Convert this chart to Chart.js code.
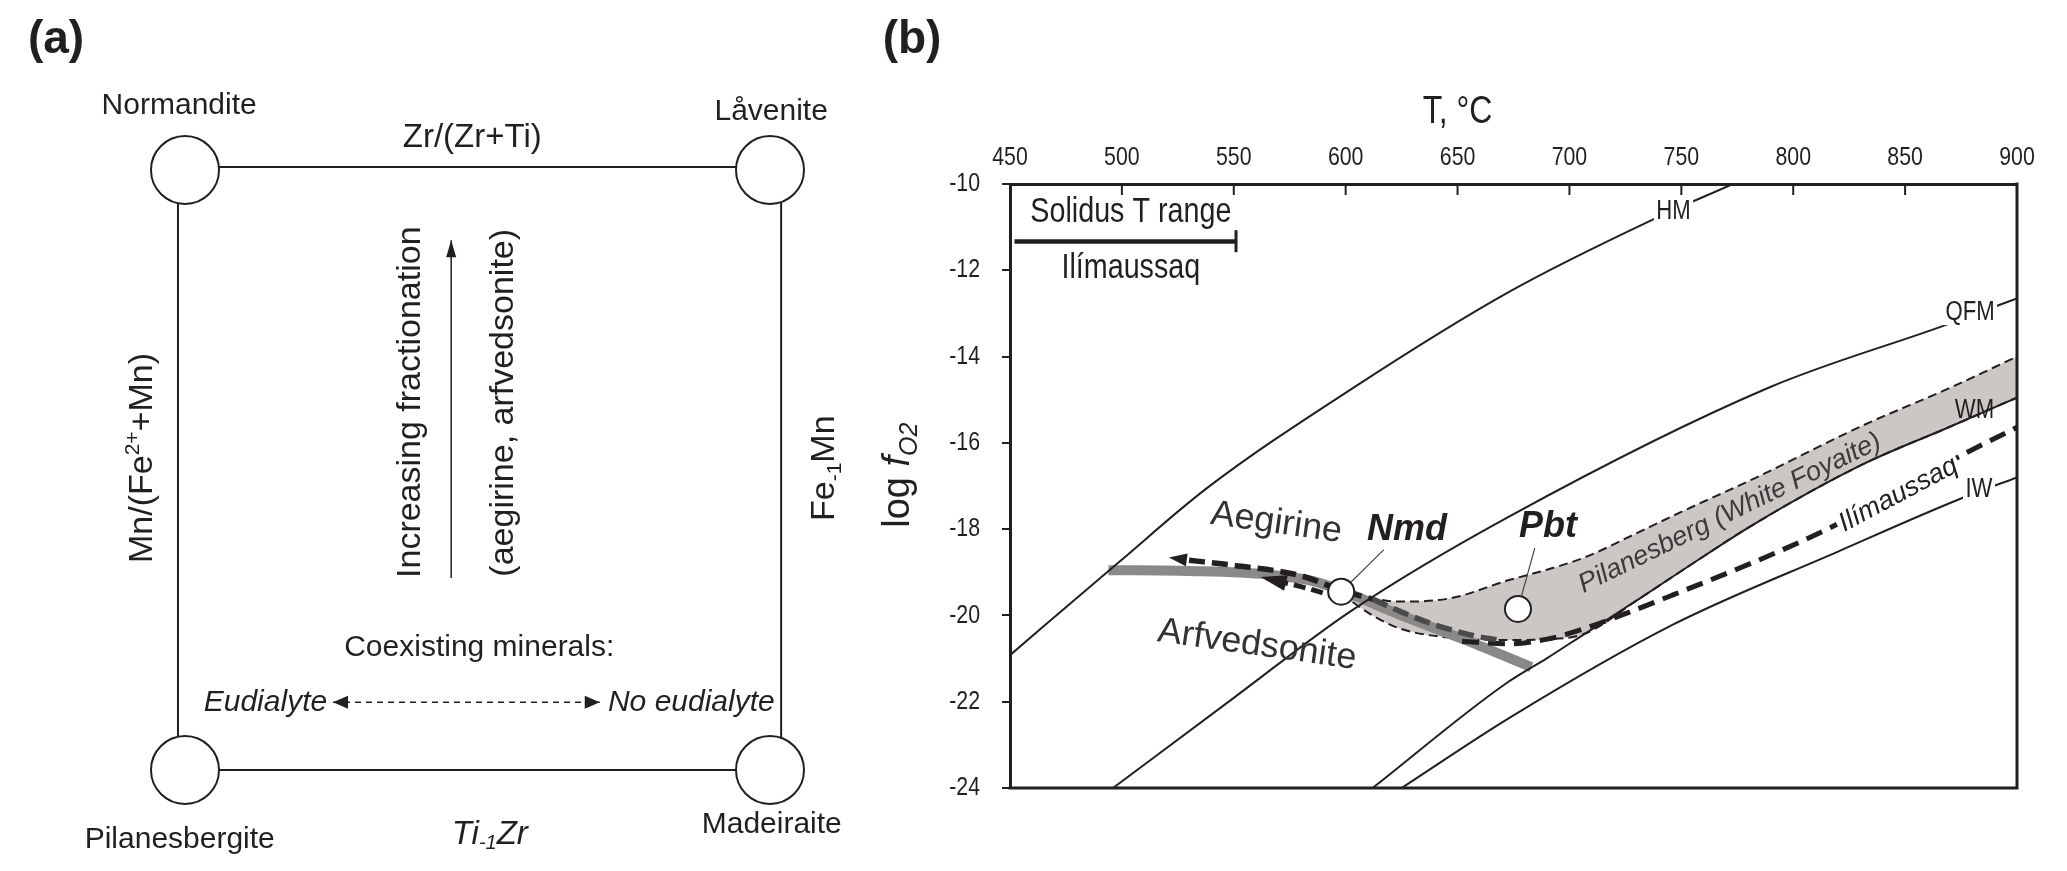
<!DOCTYPE html>
<html>
<head>
<meta charset="utf-8">
<title>Eudialyte end-members and redox conditions</title>
<script src="https://cdn.jsdelivr.net/npm/chart.js@4/dist/chart.umd.min.js"></script>
<style>
  html, body { margin: 0; padding: 0; background: #fff; }
  #page { position: relative; width: 2067px; height: 871px; overflow: hidden; }
  #page canvas { position: absolute; top: 0; }
</style>
</head>
<body>
<div id="page">
  <canvas id="panelA" width="870" height="871" style="left:0"></canvas>
  <canvas id="panelB" width="1197" height="871" style="left:870px"></canvas>
</div>
<script>
const INK = '#231f20';
const SANS = '"Liberation Sans", Arial, Helvetica, sans-serif';
const NARROW_X = 0.82; // no narrow face installed: squeeze Liberation Sans instead

// ---------- (a) compositional square ----------
const cornerNames = ['Normandite', 'Låvenite', 'Pilanesbergite', 'Madeiraite'];
const cornerX = [0, 1, 0, 1];
const cornerY = [1, 1, 0, 0];
// sides of the square (the vertical sides sit a little off the circle centres)
const topEdge = [[0, 1.005], [1, 1.005]];
const bottomEdge = [[0, 0], [1, 0]];
const leftEdge = [[-0.012, 0], [-0.012, 1]];
const rightEdge = [[1.019, 0], [1.019, 1]];
const fractionationArrow = [[0.455, 0.32], [0.455, 0.883]];
const coexistArrow = [[0.253, 0.113], [0.709, 0.113]];

// ---------- (b) T vs log fO2 ----------
const tempTicks = [450, 500, 550, 600, 650, 700, 750, 800, 850, 900];
const logTicks = [-10, -12, -14, -16, -18, -20, -22, -24];

// buffer curves [T °C, log fO2]
const hmCurve  = [[450,-20.92],[499,-18.75],[538,-17.05],[602,-14.77],[673,-12.50],[737,-10.83],[773,-10.0]];
const qfmCurve = [[496,-24.0],[550,-21.91],[602,-19.91],[673,-17.71],[790,-14.70],[868,-13.27],[900,-12.65]];
const wmCurve  = [[612,-24.0],[671,-21.60],[690,-20.99],[707,-20.42],[731,-19.62],[750,-18.97],[782,-17.90],[831,-16.50],[869,-15.65],[900,-14.95]];
const iwCurve  = [[625,-24.0],[673,-22.38],[746,-20.22],[820,-18.52],[875,-17.29],[900,-16.80]];

// Pilanesberg (White Foyaite) field
const bandT      = [598, 612, 624, 647, 673, 690, 707, 731, 750, 782, 831, 869, 900];
const bandTop    = [-19.42,-19.60,-19.68,-19.60,-19.18,-18.94,-18.65,-18.07,-17.60,-16.84,-15.60,-14.75,-14.00];
const bandBottom = [-19.50,-20.00,-20.30,-20.52,-20.57,-20.55,-20.42,-19.62,-18.97,-17.90,-16.50,-15.65,-14.95];

const ilimaussaqCurve = [[652,-20.60],[673,-20.66],[690,-20.55],[701,-20.40],[746,-19.53],[816,-17.98],[874,-16.32],[900,-15.64]];
const grayBoundary  = [[494,-18.95],[530,-18.97],[565,-19.05],[585,-19.20],[598,-19.42],[624,-19.98],[654,-20.58],[683,-21.20]];
const aegirineBlack = [[530,-18.72],[550,-18.84],[580,-19.08],[598,-19.42],[612,-19.62]];
const aegirineDark  = [[612,-19.62],[624,-19.90],[640,-20.22],[660,-20.50],[670,-20.58]];
const arfvedsonitePath = [[569,-19.20],[582,-19.36],[596,-19.58]];

const sampleNames = ['Nmd', 'Pbt'];
const sampleT = [598, 677];
const sampleLog = [-19.45, -19.85];
const nmdLeader = [[598,-19.45],[617,-18.48]];
const pbtLeader = [[677,-19.85],[684.5,-18.44]];

const solidusT = [452, 551];
const solidusLog = -11.33;
const solidusEnd = [-11.07, -11.58];

const toXY = pts => pts.map(p => ({ x: p[0], y: p[1] }));

function drawRich(ctx, item, px, py) {
  const runs = item.runs.map(r => ({ t: r[0], font: (r[3] ? r[3] + ' ' : '') + r[1] + 'px ' + r[2], dy: r[4] || 0 }));
  ctx.save();
  ctx.translate(px, py);
  if (item.rot) ctx.rotate(item.rot * Math.PI / 180);
  if (item.narrow) ctx.scale(NARROW_X, 1);
  ctx.textBaseline = item.baseline || 'middle';
  ctx.textAlign = 'left';
  let w = 0;
  runs.forEach(r => { ctx.font = r.font; r.w = ctx.measureText(r.t).width; w += r.w; });
  let cx = item.align === 'left' ? 0 : item.align === 'right' ? -w : -w / 2;
  if (item.box) { ctx.fillStyle = '#fff'; ctx.fillRect(cx - 3, -item.box / 2, w + 6, item.box); }
  ctx.fillStyle = item.color || INK;
  runs.forEach(r => { ctx.font = r.font; ctx.fillText(r.t, cx, r.dy); cx += r.w; });
  ctx.restore();
}

function arrowHead(ctx, tx, ty, fx, fy, len, half, color) {
  const ang = Math.atan2(ty - fy, tx - fx);
  ctx.save();
  ctx.translate(tx, ty);
  ctx.rotate(ang);
  ctx.beginPath();
  ctx.moveTo(0, 0);
  ctx.lineTo(-len, -half);
  ctx.lineTo(-len, half);
  ctx.closePath();
  ctx.fillStyle = color;
  ctx.fill();
  ctx.restore();
}

Chart.defaults.font.family = SANS;
Chart.defaults.color = INK;

// ---------------- panel (a) ----------------
const diagramLabels = [
  { x: -0.010, y: 1.107, runs: [[cornerNames[0], 30, SANS]] },
  { x: 1.002, y: 1.097, runs: [[cornerNames[1], 30, SANS]] },
  { x: -0.009, y: -0.117, runs: [[cornerNames[2], 30, SANS]] },
  { x: 1.003, y: -0.092, runs: [[cornerNames[3], 30, SANS]] },
  { x: 0.491, y: 1.053, runs: [['Zr/(Zr+Ti)', 33, SANS]] },
  { x: 0.521, y: -0.108, runs: [['Ti', 33, SANS, 'italic'], ['-1', 20, SANS, 'italic', 9], ['Zr', 33, SANS, 'italic']] },
  { x: 0.503, y: 0.203, runs: [['Coexisting minerals:', 30, SANS]] },
  { x: 0.243, y: 0.113, align: 'right', runs: [['Eudialyte', 30, SANS, 'italic']] },
  { x: 0.723, y: 0.113, align: 'left', runs: [['No eudialyte', 30, SANS, 'italic']] },
  { x: -0.056, y: 0.52, rot: -90, baseline: 'alphabetic', runs: [['Mn/(Fe', 34, SANS], ['2+', 21, SANS, '', -13], ['+Mn)', 34, SANS]] },
  { x: 1.109, y: 0.503, rot: -90, baseline: 'alphabetic', runs: [['Fe', 34, SANS], ['-1', 21, SANS, '', 7], ['Mn', 34, SANS]] },
  { x: 0.386, y: 0.613, rot: -90, runs: [['Increasing fractionation', 34, SANS]] },
  { x: 0.545, y: 0.612, rot: -90, runs: [['(aegirine, arfvedsonite)', 34, SANS]] }
];

const diagramDecor = {
  id: 'diagramDecor',
  afterDraw(chart) {
    const { ctx, scales: { x, y } } = chart;
    const P = p => [x.getPixelForValue(p[0]), y.getPixelForValue(p[1])];
    let t = P(fractionationArrow[1]), f = P(fractionationArrow[0]);
    arrowHead(ctx, t[0], t[1], f[0], f[1], 17, 5, INK);
    t = P(coexistArrow[1]); f = P(coexistArrow[0]);
    arrowHead(ctx, t[0], t[1], f[0], f[1], 15, 6.5, INK);
    arrowHead(ctx, f[0], f[1], t[0], t[1], 15, 6.5, INK);
    diagramLabels.forEach(l => drawRich(ctx, l, x.getPixelForValue(l.x), y.getPixelForValue(l.y)));
    drawRich(ctx, { runs: [['(a)', 46, SANS, 'bold']] }, 56, 40);
  }
};

const edge = (pts, extra) => Object.assign({
  type: 'line', data: toXY(pts), borderColor: INK, borderWidth: 2,
  pointRadius: 0, fill: false, clip: false, order: 5
}, extra);

new Chart(document.getElementById('panelA'), {
  type: 'scatter',
  data: {
    datasets: [
      edge(topEdge), edge(bottomEdge), edge(leftEdge), edge(rightEdge),
      edge(fractionationArrow, { borderWidth: 1.5 }),
      edge(coexistArrow, { borderWidth: 1.5, borderDash: [6, 5] }),
      {
        type: 'scatter',
        data: cornerX.map((v, i) => ({ x: v, y: cornerY[i] })),
        pointRadius: 34, pointBackgroundColor: '#fff',
        pointBorderColor: INK, pointBorderWidth: 2, clip: false, order: 0
      }
    ]
  },
  options: {
    responsive: false, animation: false, devicePixelRatio: 1, events: [],
    layout: { padding: { left: 185, right: 100, top: 170, bottom: 101 } },
    scales: {
      x: { type: 'linear', display: false, min: 0, max: 1 },
      y: { type: 'linear', display: false, min: 0, max: 1 }
    },
    plugins: { legend: { display: false }, tooltip: { enabled: false } }
  },
  plugins: [diagramDecor]
});

// ---------------- panel (b) ----------------
const redoxLabels = [
  { T: 504, L: -10.65, narrow: true, runs: [['Solidus T range', 35, SANS]] },
  { T: 504, L: -11.95, narrow: true, runs: [['Ilímaussaq', 35, SANS]] },
  { T: 746.5, L: -10.65, narrow: true, box: 26, runs: [['HM', 27, SANS]] },
  { T: 879, L: -12.97, narrow: true, box: 26, runs: [['QFM', 27, SANS]] },
  { T: 881, L: -15.24, narrow: true, runs: [['WM', 27, SANS]] },
  { T: 883, L: -17.09, narrow: true, box: 26, runs: [['IW', 27, SANS]] },
  { T: 847, L: -17.2, rot: -28, box: 24, runs: [['Ilímaussaq', 27, SANS, 'italic']] },
  { T: 771.7, L: -17.63, rot: -26, color: '#3a3a3a', runs: [['Pilanesberg (White Foyaite)', 27, SANS, 'italic']] },
  { T: 569, L: -17.86, rot: 8, color: '#333', runs: [['Aegirine', 36, SANS]] },
  { T: 560.4, L: -20.69, rot: 8, color: '#333', runs: [['Arfvedsonite', 36, SANS]] },
  { T: 627.4, L: -18.02, runs: [[sampleNames[0], 36, SANS, 'italic bold']] },
  { T: 690.4, L: -17.95, runs: [[sampleNames[1], 36, SANS, 'italic bold']] }
];

const redoxDecor = {
  id: 'redoxDecor',
  afterDraw(chart) {
    const { ctx, chartArea: a, scales: { x, y } } = chart;
    // arrow heads on the evolution paths
    arrowHead(ctx, x.getPixelForValue(521), y.getPixelForValue(-18.66),
      x.getPixelForValue(530), y.getPixelForValue(-18.72), 18, 6.5, INK);
    arrowHead(ctx, x.getPixelForValue(562), y.getPixelForValue(-19.11),
      x.getPixelForValue(571), y.getPixelForValue(-19.22), 26, 8, INK);

    redoxLabels.forEach(l => drawRich(ctx, l, x.getPixelForValue(l.T), y.getPixelForValue(l.L)));

    // right and bottom frame, inward top ticks
    ctx.save();
    ctx.strokeStyle = INK;
    ctx.lineWidth = 3;
    ctx.beginPath();
    ctx.moveTo(a.right, a.top - 1.5);
    ctx.lineTo(a.right, a.bottom);
    ctx.lineTo(a.left - 1.5, a.bottom);
    ctx.stroke();
    ctx.lineWidth = 2;
    tempTicks.forEach(v => {
      if (v <= 450 || v >= 900) return;
      const px = x.getPixelForValue(v);
      ctx.beginPath();
      ctx.moveTo(px, a.top);
      ctx.lineTo(px, a.top + 11);
      ctx.stroke();
    });
    ctx.restore();

    // tick labels in the condensed face of the original
    tempTicks.forEach(v => drawRich(ctx, { narrow: true, runs: [[String(v), 26, SANS]] }, x.getPixelForValue(v), a.top - 26));
    logTicks.forEach(v => drawRich(ctx, { narrow: true, align: 'right', runs: [[String(v), 26, SANS]] }, a.left - 30, y.getPixelForValue(v)));

    // axis titles
    drawRich(ctx, { narrow: true, runs: [['T, °C', 39, SANS]] }, x.getPixelForValue(650), 112);
    drawRich(ctx, { rot: -90, baseline: 'alphabetic',
      runs: [['log ', 38, SANS], ['f', 38, SANS, 'italic'], ['O2', 25, SANS, 'italic', 8]] },
      a.left - 101, y.getPixelForValue(-16.75));
    drawRich(ctx, { runs: [['(b)', 46, SANS, 'bold']] }, 42, 40);
  }
};

const curve = (pts, extra) => Object.assign({
  type: 'line', data: toXY(pts), borderColor: INK, borderWidth: 2,
  pointRadius: 0, fill: false, cubicInterpolationMode: 'monotone', order: 15
}, extra);

new Chart(document.getElementById('panelB'), {
  type: 'scatter',
  data: {
    datasets: [
      curve(bandT.map((t, i) => [t, bandTop[i]]), { borderDash: [9, 5], fill: '+1', backgroundColor: '#ccc7c4', order: 20 }),
      curve(bandT.map((t, i) => [t, bandBottom[i]]), { borderDash: [9, 5], order: 19 }),
      curve(grayBoundary, { borderColor: '#8b8988', borderWidth: 10, borderCapStyle: 'butt', order: 18 }),
      curve(hmCurve),
      curve(qfmCurve),
      curve(wmCurve),
      curve(iwCurve),
      curve(ilimaussaqCurve, { borderWidth: 5, borderDash: [17, 9], order: 12 }),
      curve(aegirineDark, { borderColor: '#4a4a4a', borderWidth: 5.5, borderDash: [16, 7], order: 11 }),
      curve(aegirineBlack, { borderWidth: 5.5, borderDash: [16, 7], order: 10 }),
      curve(arfvedsonitePath, { borderWidth: 5, borderDash: [12, 6], order: 10 }),
      curve(solidusT.map(t => [t, solidusLog]), { borderWidth: 4.5, borderCapStyle: 'butt', order: 10 }),
      curve(solidusEnd.map(v => [solidusT[1], v]), { borderWidth: 3, order: 10 }),
      curve(nmdLeader, { borderColor: '#444', borderWidth: 1.2, order: 9 }),
      curve(pbtLeader, { borderColor: '#444', borderWidth: 1.2, order: 9 }),
      {
        type: 'scatter',
        data: sampleT.map((t, i) => ({ x: t, y: sampleLog[i] })),
        pointRadius: 13, pointBackgroundColor: '#fff',
        pointBorderColor: INK, pointBorderWidth: 2, order: 0
      }
    ]
  },
  options: {
    responsive: false, animation: false, devicePixelRatio: 1, events: [],
    layout: { padding: { left: 0, top: 0, right: 50, bottom: 83 } },
    scales: {
      x: {
        type: 'linear', position: 'top', min: 450, max: 900,
        afterBuildTicks: s => { s.ticks = tempTicks.map(v => ({ value: v })); },
        afterFit: s => { s.height = 184; },
        ticks: { display: false },
        grid: { display: false, drawTicks: false },
        border: { display: true, width: 3, color: INK }
      },
      y: {
        type: 'linear', position: 'left', min: -24, max: -10,
        afterBuildTicks: s => { s.ticks = logTicks.map(v => ({ value: v })); },
        afterFit: s => { s.width = 140; },
        ticks: { display: false },
        grid: { display: true, drawOnChartArea: false, drawTicks: true, tickLength: 8, color: INK, lineWidth: 2 },
        border: { display: true, width: 3, color: INK }
      }
    },
    plugins: { legend: { display: false }, tooltip: { enabled: false } }
  },
  plugins: [redoxDecor]
});
</script>
</body>
</html>
